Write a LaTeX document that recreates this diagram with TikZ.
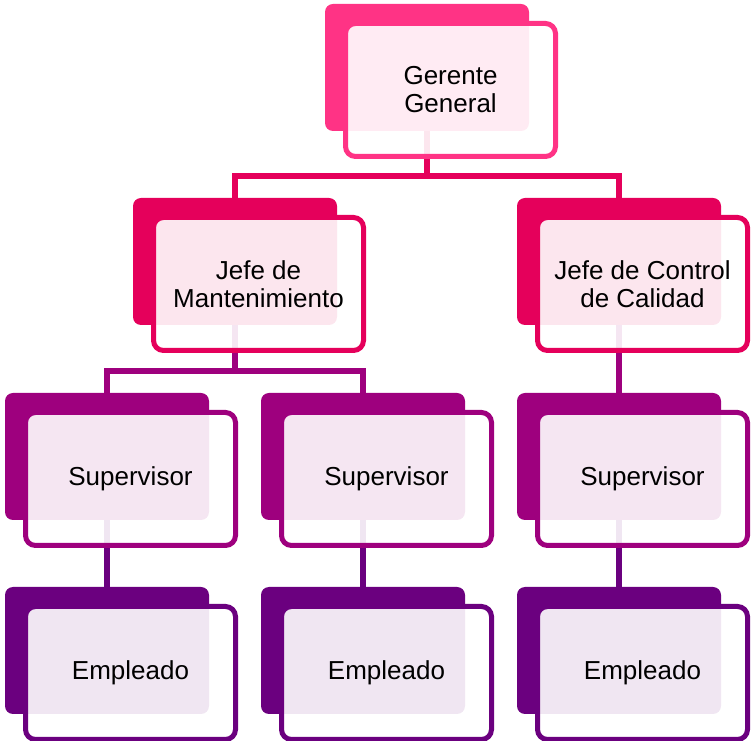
\documentclass[tikz,border=0pt]{standalone}
\usepackage{fontspec}
\setmainfont{Liberation Sans}
\usetikzlibrary{backgrounds}
\definecolor{cA}{HTML}{FF3385}
\definecolor{cB}{HTML}{E5005B}
\definecolor{cC}{HTML}{9E007E}
\definecolor{cD}{HTML}{6B007F}
\newcommand\orgunit[5]{%
  \node[backbox=#4] (#1b) at (#2+102,#3+63.5) {};
  \node[frontbox=#4] (#1) at (#2+125.5,#3+86) {#5};
}
\begin{document}
\begin{tikzpicture}[x=0.75pt,y=-0.75pt,
  backbox/.style={rectangle,rounded corners=6pt,fill=#1,minimum width=153pt,minimum height=95.25pt,inner sep=0pt,outer sep=0pt},
  frontbox/.style={rectangle,rounded corners=7.5pt,draw=#1,line width=3.75pt,fill=white,fill opacity=0.9,text opacity=1,minimum width=157.5pt,minimum height=99.75pt,inner sep=0pt,outer sep=0pt,align=center,font=\fontsize{19.5}{21}\selectfont},
  conn/.style={draw=#1,line width=4pt}]
\useasboundingbox (0,0) rectangle (751,741);
\orgunit{g}{325}{4}{cA}{Gerente\\General}
\orgunit{j1}{133}{198}{cB}{Jefe de\\Mantenimiento}
\orgunit{j2}{517}{198}{cB}{Jefe de Control\\de Calidad}
\orgunit{s1}{5}{393}{cC}{Supervisor}
\orgunit{s2}{261}{393}{cC}{Supervisor}
\orgunit{s3}{517}{393}{cC}{Supervisor}
\orgunit{e1}{5}{587}{cD}{Empleado}
\orgunit{e2}{261}{587}{cD}{Empleado}
\orgunit{e3}{517}{587}{cD}{Empleado}
\coordinate (busA) at (0,176);
\coordinate (busB) at (0,371);
\begin{pgfonlayer}{background}
\draw[conn=cB] (gb.center) -- (gb.center |- busA) -| (j1b.north);
\draw[conn=cB] (gb.center |- busA) -| (j2b.north);
\draw[conn=cC] (j1b.center) -- (j1b.center |- busB) -| (s1b.north);
\draw[conn=cC] (j1b.center |- busB) -| (s2b.north);
\draw[conn=cC] (j2b.center) -- (s3b.north);
\draw[conn=cD] (s1b.center) -- (e1b.north);
\draw[conn=cD] (s2b.center) -- (e2b.north);
\draw[conn=cD] (s3b.center) -- (e3b.north);
\end{pgfonlayer}
\end{tikzpicture}
\end{document}
